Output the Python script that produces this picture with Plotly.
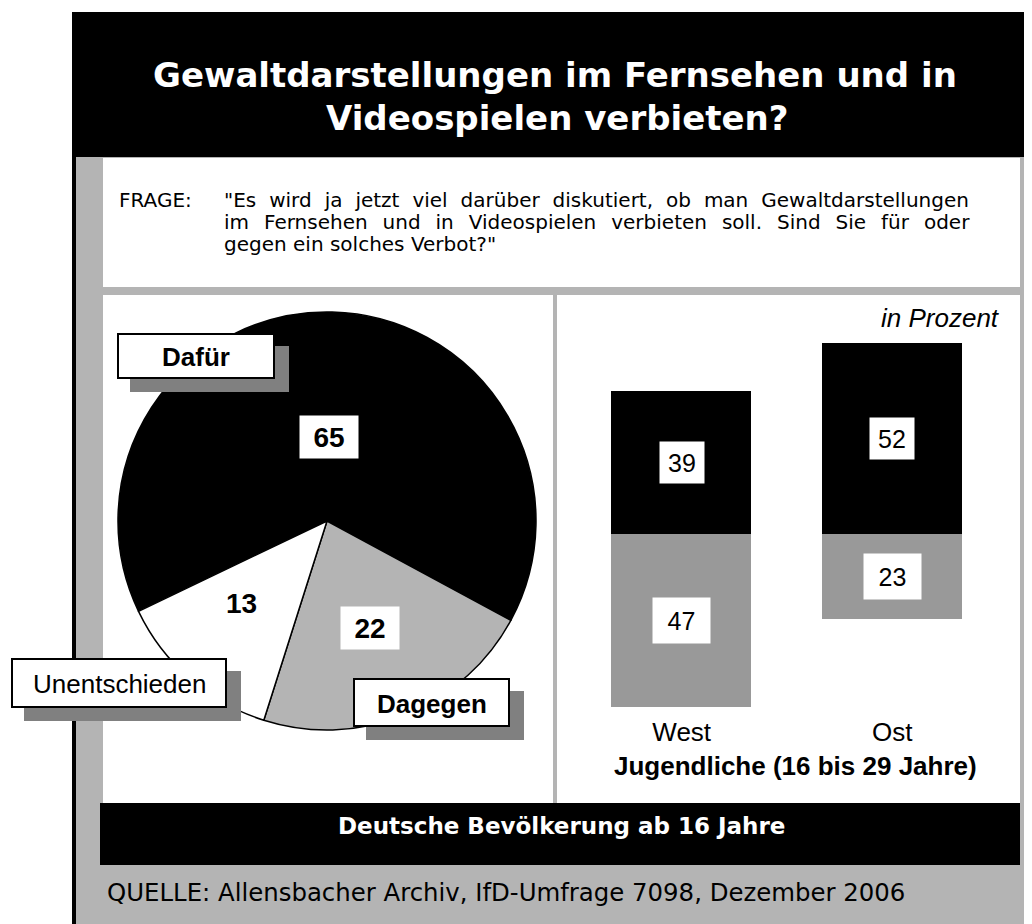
import math
import plotly.graph_objects as go

# ---------------- data ----------------
title_lines = ["Gewaltdarstellungen im Fernsehen und in", "Videospielen verbieten?"]
question_label = "FRAGE:"
question_lines = [
    '"Es wird ja jetzt viel darüber diskutiert, ob man Gewaltdarstellungen',
    'im Fernsehen und in Videospielen verbieten soll. Sind Sie für oder',
    'gegen ein solches Verbot?"',
]
pie_labels = ["Dafür", "Dagegen", "Unentschieden"]
pie_values = [65, 22, 13]
bar_groups = ["West", "Ost"]
bar_dafuer = [39, 52]
bar_dagegen = [47, 23]
bar_group_title = "Jugendliche (16 bis 29 Jahre)"
unit_note = "in Prozent"
footer_text = "Deutsche Bevölkerung ab 16 Jahre"
source_text = "QUELLE: Allensbacher Archiv, IfD-Umfrage 7098, Dezember 2006"

# ---------------- styling ----------------
OFF = 8                     # page body margin
FW, FH = 1032 - OFF, 924 - OFF
ARIAL = "Liberation Sans, Arial, sans-serif"
WIDE = "DejaVu Sans, Verdana, sans-serif"
GRAY_BG = "#b4b4b4"
PIE_COLORS = ["#000000", "#b4b4b4", "#ffffff"]
BAR_BLACK = "#000000"
BAR_GRAY = "#999999"
SHADOW = "#808080"


def X(px):
    return (px - OFF) / FW


def Y(py):
    return 1 - (py - OFF) / FH


shapes = []


def rect(x0, y0, x1, y1, fill, layer="below", line_color=None, line_width=0):
    shapes.append(dict(
        type="rect", xref="paper", yref="paper",
        x0=X(x0), x1=X(x1), y0=Y(y1), y1=Y(y0),
        fillcolor=fill, layer=layer,
        line=dict(color=line_color or fill, width=line_width),
    ))


# frame
rect(72, 12, 1032, 157, "#000000")            # title bar
rect(72, 157, 1032, 924, GRAY_BG)             # gray box
rect(72, 157, 76, 924, "#000000")             # left black border
rect(103, 158, 1020, 287, "#ffffff")          # question panel
rect(103, 295, 553, 803, "#ffffff")           # pie panel
rect(557, 295, 1020, 803, "#ffffff")          # bar panel
rect(100, 803, 1020, 865, "#000000")          # footer bar

annotations = []


def text(px, py, s, size, color="#000000", family=ARIAL, bold=False, italic=False,
         xanchor="center", yanchor="middle", **kw):
    if bold:
        s = "<b>" + s + "</b>"
    if italic:
        s = "<i>" + s + "</i>"
    d = dict(xref="paper", yref="paper", x=X(px), y=Y(py), text=s, showarrow=False,
             font=dict(size=size, color=color, family=family),
             xanchor=xanchor, yanchor=yanchor)
    d.update(kw)
    annotations.append(d)


# title
text(555, 75, title_lines[0], 34, color="#ffffff", family=WIDE, bold=True)
text(557, 118, title_lines[1], 34, color="#ffffff", family=WIDE, bold=True)

# question (first two lines justified by widening the word gaps)
text(117, 200, question_label, 20, family=WIDE, xanchor="left")
gap_fill = [" \u2004", " \u2004\u200a", " "]
for i, line in enumerate(question_lines):
    s = gap_fill[i].join(line.split(" "))
    text(222, 200 + 22 * i, s, 20, family=WIDE, xanchor="left")

# ---------------- pie ----------------
CX, CY, R = 327, 521, 209
ROT = 244.4
fig = go.Figure()
fig.add_trace(go.Pie(
    labels=pie_labels, values=pie_values, sort=False, direction="clockwise",
    rotation=ROT, marker=dict(colors=PIE_COLORS, line=dict(color="#000000", width=1.5)),
    textinfo="none", hoverinfo="skip", showlegend=False,
    domain=dict(x=[X(CX - R), X(CX + R)], y=[Y(CY + R), Y(CY - R)]),
))

# value labels inside the slices
label_frac = [0.40, 0.55, 0.57]
label_shift = [0.0, 0.0, 5.0]
label_box = [True, True, False]
total = sum(pie_values)
cum = 0
for v, f, sh, boxed in zip(pie_values, label_frac, label_shift, label_box):
    th = math.radians(ROT + 360.0 * (cum + v / 2.0) / total + sh)
    cum += v
    px = CX + f * R * math.sin(th)
    py = CY - f * R * math.cos(th)
    extra = dict(bgcolor="#ffffff", width=56, height=40) if boxed else {}
    text(px, py, str(v), 28, bold=True, **extra)

# category labels with drop shadow
cat_boxes = {
    "Dafür": ((118, 334, 274, 378), True),
    "Dagegen": ((354, 679, 509, 726), True),
    "Unentschieden": ((12, 659, 226, 707), False),
}
for name in pie_labels:
    (x0, y0, x1, y1), bold = cat_boxes[name]
    rect(x0 + 12, y0 + 12, x1 + 15, y1 + 14, SHADOW, layer="above")
    rect(x0, y0, x1, y1, "#ffffff", layer="above", line_color="#000000", line_width=2)
    text((x0 + x1) / 2, (y0 + y1) / 2 + 1, name, 26, bold=bold)

# ---------------- bars ----------------
PX_PER_UNIT = 3.68
ZERO_PY = 534.3
AX_TOP, AX_BOT = 300, 714
ymax = (ZERO_PY - AX_TOP) / PX_PER_UNIT
ymin = -(AX_BOT - ZERO_PY) / PX_PER_UNIT

fig.add_trace(go.Bar(x=bar_groups, y=bar_dafuer, marker=dict(color=BAR_BLACK, line=dict(width=0)),
                     width=0.665, hoverinfo="skip", showlegend=False))
fig.add_trace(go.Bar(x=bar_groups, y=[-v for v in bar_dagegen],
                     marker=dict(color=BAR_GRAY, line=dict(width=0)),
                     width=0.665, hoverinfo="skip", showlegend=False))

for g, v in zip(bar_groups, bar_dafuer):
    annotations.append(dict(xref="x", yref="y", x=g, y=v / 2.0, text=str(v), showarrow=False,
                            font=dict(size=25, color="#000000", family=ARIAL),
                            bgcolor="#ffffff", width=42, height=39))
for g, v in zip(bar_groups, bar_dagegen):
    annotations.append(dict(xref="x", yref="y", x=g, y=-v / 2.0, text=str(v), showarrow=False,
                            font=dict(size=25, color="#000000", family=ARIAL),
                            bgcolor="#ffffff", width=55, height=43))

text(795, 766, bar_group_title, 26, bold=True)
text(1002, 318, unit_note, 26, italic=True, xanchor="right")

# footer / source
text(561, 826, footer_text, 23, color="#ffffff", family=WIDE, bold=True)
text(105, 892, source_text, 24.4, family=WIDE, xanchor="left")

fig.update_layout(
    width=FW, height=FH, margin=dict(l=0, r=0, t=0, b=0),
    paper_bgcolor="#ffffff", plot_bgcolor="rgba(0,0,0,0)",
    barmode="relative", bargap=0,
    xaxis=dict(domain=[X(576.4), X(997.6)], range=[-0.5, 1.5], showgrid=False, zeroline=False,
               showline=False, ticks="", tickfont=dict(size=26, family=ARIAL, color="#000000"),
               fixedrange=True),
    yaxis=dict(domain=[Y(AX_BOT), Y(AX_TOP)], range=[ymin, ymax], showgrid=False, zeroline=False,
               showline=False, showticklabels=False, ticks="", fixedrange=True),
    shapes=shapes, annotations=annotations,
)

fig.write_html("out.html", config={"displayModeBar": False})
